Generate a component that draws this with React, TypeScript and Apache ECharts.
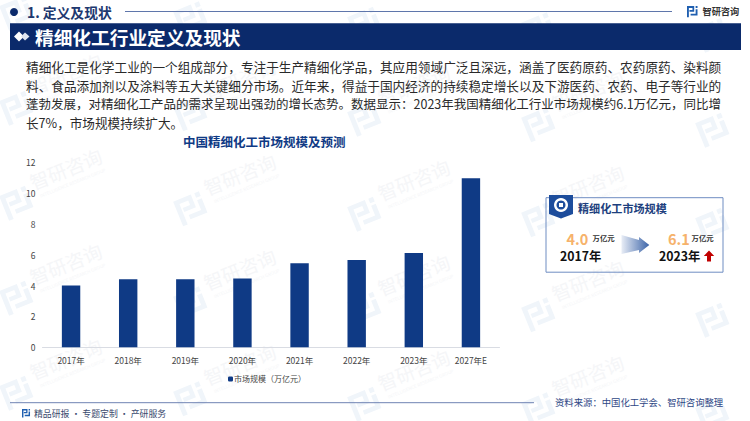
import React, { useEffect, useRef } from "react";
import * as echarts from "echarts";

const categories = ["2017年", "2018年", "2019年", "2020年", "2021年", "2022年", "2023年", "2027年E"];
const marketSize = [4.0, 4.4, 4.4, 4.45, 5.45, 5.65, 6.1, 10.95];
const seriesName = "市场规模（万亿元）";
const chartTitle = "中国精细化工市场规模及预测";
const bodyLines = [
  "精细化工是化学工业的一个组成部分，专注于生产精细化学品，其应用领域广泛且深远，涵盖了医药原药、农药原药、染料颜",
  "料、食品添加剂以及涂料等五大关键细分市场。近年来，得益于国内经济的持续稳定增长以及下游医药、农药、电子等行业的",
  "蓬勃发展，对精细化工产品的需求呈现出强劲的增长态势。数据显示：2023年我国精细化工行业市场规模约6.1万亿元，同比增",
  "长7%，市场规模持续扩大。",
];
const bodyFontSizes = [12.65, 12.65, 12.5, 12.6];

const FONT = "'Noto Sans CJK SC', 'Noto Sans', sans-serif";
const NAVY = "#0b2a6b";
const BLUE = "#0f3a85";

const LOGO_D =
  "M0 0H10V7.2H3.4V5H7.6V2.4H2.6V14H0Z M12 0H14.6V2.6H12Z M12 4H14.6V12H5V9.6H12Z";
echarts.graphic.registerShape("zyLogo", echarts.graphic.extendPath(LOGO_D, {}) as any);

function txt(x: number, y: number, text: string, style: any = {}, extra: any = {}) {
  return {
    type: "text",
    x,
    y,
    silent: true,
    ...extra,
    style: { text, font: `12px ${FONT}`, fill: "#222", verticalAlign: "middle", ...style },
  };
}

function watermark(x: number, y: number, withText: boolean) {
  const children: any[] = [
    { type: "zyLogo", x: -14, y: -13, scaleX: 1.9, scaleY: 1.9, style: { fill: "#f0f5fa" } },
  ];
  if (withText) {
    children.push(
      txt(20, -14, "智研咨询", { font: `19px ${FONT}`, fill: "#f5f6f8" }),
      txt(24, 2, "INTELLIGENCE RESEARCH GROUP", { font: `4.5px ${FONT}`, fill: "#f5f6f8" })
    );
  }
  return {
    type: "group",
    x,
    y,
    rotation: (22 * Math.PI) / 180,
    silent: true,
    z: -1,
    children,
  };
}

function watermarks() {
  const out: any[] = [];
  for (let j = -2; j <= 2; j++) {
    for (let i = 0; i <= 4; i++) {
      out.push(watermark(17 + 174 * i, 203 + 5.5 * i + 95 * j, i < 4 && j > -2));
    }
  }
  return out;
}

export default function App() {
  const ref = useRef<HTMLDivElement>(null);
  useEffect(() => {
    document.body.style.margin = "0";
    const chart = echarts.init(ref.current!, null, { renderer: "svg" });
    chart.setOption({
      animation: false,
      backgroundColor: "#ffffff",
      textStyle: { fontFamily: FONT },
      title: {
        text: chartTitle,
        left: 183,
        top: 135.5,
        padding: 0,
        textStyle: { fontSize: 12.5, fontWeight: "bold", color: BLUE, fontFamily: FONT },
      },
      legend: {
        data: [seriesName],
        left: 228,
        top: 375,
        itemWidth: 5,
        itemHeight: 5,
        itemGap: 4,
        padding: 0,
        textStyle: { fontSize: 8, color: "#444", fontFamily: FONT, padding: [0, 0, 0, -4] },
      },
      grid: { left: 42.5, right: 250.5, top: 162, bottom: 73.7 },
      xAxis: {
        type: "category",
        data: categories,
        axisLine: { lineStyle: { color: "#d9dce3", width: 1 } },
        axisTick: { show: false },
        axisLabel: { fontSize: 8.5, color: "#444", margin: 8.5, fontFamily: FONT },
      },
      yAxis: {
        type: "value",
        min: 0,
        max: 12,
        interval: 2,
        axisLine: { show: false },
        axisTick: { show: false },
        splitLine: { show: false },
        axisLabel: { fontSize: 8.5, color: "#444", margin: 7, fontFamily: FONT },
      },
      series: [
        {
          name: seriesName,
          type: "bar",
          data: marketSize,
          barWidth: 18.4,
          itemStyle: { color: BLUE },
        },
      ],
      graphic: [
        ...watermarks(),
        // header
        { type: "circle", silent: true, shape: { cx: 14, cy: 12, r: 4 }, style: { fill: NAVY } },
        txt(27, 12, "1. 定义及现状", { font: `bold 13.8px ${FONT}`, fill: "#20386f" }),
        { type: "line", silent: true, shape: { x1: 125, y1: 11.5, x2: 672, y2: 11.5 }, style: { stroke: "#5f76ab", lineWidth: 1 } },
        { type: "zyLogo", x: 687, y: 6, scaleX: 0.72, scaleY: 0.8, style: { fill: "#1f5fb0" } },
        txt(702.5, 11, "智研咨询", { font: `bold 9.2px ${FONT}`, fill: "#333" }),
        { type: "rect", silent: true, shape: { x: 10, y: 23.3, width: 731, height: 26.7 }, style: { fill: NAVY } },
        { type: "polygon", silent: true, shape: { points: [[14, 36.5], [19, 31.5], [24, 36.5], [19, 41.5]] }, style: { fill: "#ffffff" } },
        { type: "polygon", silent: true, shape: { points: [[21, 36.5], [25, 32.5], [29.5, 36.5], [25, 40.5]] }, style: { fill: "#dfe5f0" } },
        txt(35, 36.5, "精细化工行业定义及现状", { font: `bold 18.7px ${FONT}`, fill: "#ffffff" }),
        // paragraph
        ...bodyLines.map((line, i) =>
          txt(26, 66.3 + i * 18.7, line, { font: `${bodyFontSizes[i]}px ${FONT}`, fill: "#2a2a2a" })
        ),
        // card
        { type: "rect", silent: true, shape: { x: 546, y: 197.7, width: 177, height: 74.5 }, style: { fill: "none", stroke: "#6f8dc2", lineWidth: 1 } },
        { type: "polygon", silent: true, shape: { points: [[549, 195], [573, 195], [573, 214], [561, 218.5], [549, 214]] }, style: { fill: "#1d4d9c" } },
        { type: "ring", silent: true, shape: { cx: 561, cy: 205, r: 7, r0: 4.5 }, style: { fill: "#ffffff" } },
        { type: "rect", silent: true, shape: { x: 559, y: 203, width: 4, height: 4 }, style: { fill: "#ffffff" } },
        txt(578, 207.5, "精细化工市场规模", { font: `bold 11.1px ${FONT}`, fill: "#1d3f7e" }),
        txt(566.5, 238, "4.0", { font: `bold 14.5px ${FONT}`, fill: "#f6b26b" }),
        txt(592.5, 237.5, "万亿元", { font: `bold 7.4px ${FONT}`, fill: "#333" }),
        txt(560, 255.7, "2017年", { font: `bold 12.3px ${FONT}`, fill: "#111" }),
        {
          type: "polygon",
          silent: true,
          shape: { points: [[621.5, 235], [639, 240], [639, 237], [649.3, 245], [639, 253], [639, 250], [621.5, 254]] },
          style: {
            fill: new echarts.graphic.LinearGradient(0, 0, 1, 0, [
              { offset: 0, color: "#e8edf6" },
              { offset: 1, color: "#3c64a8" },
            ]),
          },
        },
        txt(668, 238, "6.1", { font: `bold 14.5px ${FONT}`, fill: "#f6b26b" }),
        txt(691.5, 237.5, "万亿元", { font: `bold 7.4px ${FONT}`, fill: "#333" }),
        txt(659, 255.7, "2023年", { font: `bold 12.3px ${FONT}`, fill: "#111" }),
        { type: "polygon", silent: true, shape: { points: [[709, 250.5], [703.8, 256], [707, 256], [707, 261.5], [711, 261.5], [711, 256], [714.2, 256]] }, style: { fill: "#c00000" } },
        // footer
        { type: "line", silent: true, shape: { x1: 10, y1: 402.7, x2: 534, y2: 402.7 }, style: { stroke: "#6f83b3", lineWidth: 1 } },
        { type: "zyLogo", x: 22, y: 409, scaleX: 0.55, scaleY: 0.6, style: { fill: "#1f5fb0" } },
        txt(34, 413.5, "精品研报 · 专题定制 · 产研服务", { font: `8.9px ${FONT}`, fill: "#3a4a6e" }),
        txt(555, 402, "资料来源：中国化工学会、智研咨询整理", { font: `9.35px ${FONT}`, fill: "#2e4785" }),
      ],
    });
    return () => chart.dispose();
  }, []);
  return <div ref={ref} style={{ position: "fixed", left: 0, top: 0, width: 750, height: 421 }} />;
}
